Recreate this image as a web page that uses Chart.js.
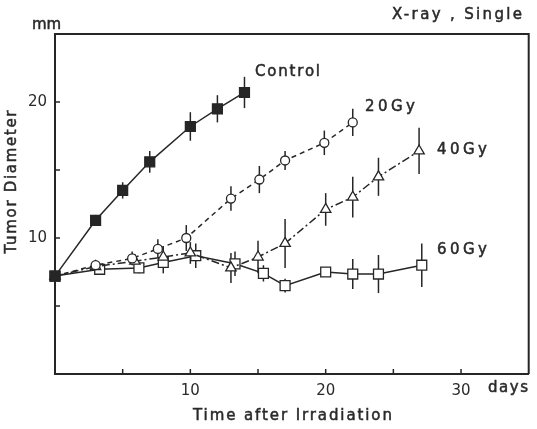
<!DOCTYPE html>
<html><head><meta charset="utf-8">
<script src="https://cdn.jsdelivr.net/npm/chart.js@4/dist/chart.umd.min.js"></script>
<style>html,body{margin:0;padding:0;background:#fff}</style>
</head><body>
<canvas id="c" width="537" height="429"></canvas>
<script>
// ---- data ----
const controlDays = [0, 3, 5, 7, 10, 12, 14];
const controlMean = [7.2, 11.3, 13.5, 15.6, 18.2, 19.5, 20.7];
const controlErr  = [0.6, 0.4, 0.6, 0.8, 1.05, 1.0, 1.15];

const gy20Days = [0, 3, 5.7, 7.6, 9.7, 13, 15.1, 17, 19.9, 22];
const gy20Mean = [7.2, 8.0, 8.5, 9.2, 10.0, 12.9, 14.3, 15.7, 17.0, 18.5];
const gy20Err  = [0.3, 0.3, 0.5, 0.7, 0.95, 0.9, 1.0, 0.7, 0.9, 1.0];

const gy40Days = [0, 3, 5.9, 8, 10, 13, 15, 17, 20, 22, 23.9, 26.9];
const gy40Mean = [7.2, 7.9, 8.3, 8.6, 8.9, 7.8, 8.6, 9.6, 12.1, 13.0, 14.5, 16.4];
const gy40Err  = [0.3, 0.3, 0.5, 0.8, 0.8, 1.1, 1.2, 1.8, 1.2, 1.5, 1.4, 1.7];

const gy60Days = [0, 3.3, 6.2, 8, 10.4, 13.3, 15.4, 17, 20, 22, 23.9, 27.1];
const gy60Mean = [7.2, 7.7, 7.8, 8.2, 8.7, 8.1, 7.4, 6.5, 7.5, 7.35, 7.35, 8.0];
const gy60Err  = [0.3, 0.2, 0.4, 0.8, 0.9, 0.9, 0.6, 0.5, 0.3, 1.1, 1.4, 1.6];

const seriesNames = ['Control', '20Gy', '40Gy', '60Gy'];
const xTickLabels = [10, 20, 30];
const yTickLabels = [10, 20];

// ---- chart ----
const INK = '#262626';
const TXT = '#2a2a2a';
const FONT = '"DejaVu Sans", "Liberation Sans", Arial, sans-serif';

function pts(xs, ys) { return xs.map((x, i) => ({ x: x, y: ys[i] })); }

const errs = [controlErr, gy20Err, gy40Err, gy60Err];
const datasets = [
  { label: seriesNames[0], data: pts(controlDays, controlMean), pointStyle: 'rect', pointRadius: 7,
    backgroundColor: INK, borderDash: [] },
  { label: seriesNames[1], data: pts(gy20Days, gy20Mean), pointStyle: 'circle', pointRadius: 4.5,
    backgroundColor: '#fff', borderDash: [5, 4] },
  { label: seriesNames[2], data: pts(gy40Days, gy40Mean), pointStyle: 'triangle', pointRadius: 6,
    backgroundColor: '#fff', borderDash: [8, 3, 2, 3] },
  { label: seriesNames[3], data: pts(gy60Days, gy60Mean), pointStyle: 'rect', pointRadius: 7,
    backgroundColor: '#fff', borderDash: [] }
].map(d => Object.assign({
  borderColor: INK, pointBorderColor: INK, pointBackgroundColor: d.backgroundColor,
  borderWidth: 1.5, pointBorderWidth: 1.3, tension: 0, clip: false, fill: false
}, d));

const errorBars = {
  id: 'errorBars',
  beforeDatasetsDraw(chart) {
    const ctx = chart.ctx, xs = chart.scales.x, ys = chart.scales.y;
    ctx.save();
    ctx.strokeStyle = INK; ctx.lineWidth = 1.5;
    chart.data.datasets.forEach((ds, di) => {
      ds.data.forEach((p, i) => {
        const e = errs[di][i];
        const px = xs.getPixelForValue(p.x);
        ctx.beginPath();
        ctx.moveTo(px, ys.getPixelForValue(p.y - e));
        ctx.lineTo(px, ys.getPixelForValue(p.y + e));
        ctx.stroke();
      });
    });
    ctx.restore();
  }
};

function spacedText(ctx, text, x, y, width, align) {
  ctx.letterSpacing = '0px';
  const w = ctx.measureText(text).width;
  const ls = Math.max(0, (width - w) / Math.max(1, text.length - 1));
  ctx.letterSpacing = ls.toFixed(2) + 'px';
  const tw = w + ls * (text.length - 1);
  let sx = x;
  if (align === 'center') sx = x - tw / 2;
  ctx.textAlign = 'left';
  ctx.fillText(text, sx, y);
  ctx.strokeText(text, sx, y);
  ctx.letterSpacing = '0px';
}

const frame = {
  id: 'frame',
  afterDraw(chart) {
    const ctx = chart.ctx, a = chart.chartArea, xs = chart.scales.x, ys = chart.scales.y;
    ctx.save();
    ctx.strokeStyle = INK; ctx.lineWidth = 2;
    ctx.beginPath();
    ctx.moveTo(a.left, a.top); ctx.lineTo(a.right, a.top); ctx.lineTo(a.right, a.bottom);
    ctx.stroke();
    ctx.lineWidth = 1.5;
    xs.ticks.forEach(t => {
      if (t.value <= xs.min || t.value >= xs.max) return;
      const px = xs.getPixelForValue(t.value);
      ctx.beginPath(); ctx.moveTo(px, a.bottom); ctx.lineTo(px, a.bottom - 5); ctx.stroke();
    });
    ys.ticks.forEach(t => {
      if (t.value <= ys.min || t.value >= ys.max) return;
      const py = ys.getPixelForValue(t.value);
      ctx.beginPath(); ctx.moveTo(a.left, py); ctx.lineTo(a.left + 5, py); ctx.stroke();
    });
    // texts
    ctx.fillStyle = TXT;
    ctx.strokeStyle = TXT;
    ctx.lineWidth = 0.5;
    ctx.textBaseline = 'middle';
    ctx.font = '15px ' + FONT;
    spacedText(ctx, 'Control', 255, 72, 65);
    spacedText(ctx, '20Gy', 365, 107, 50);
    spacedText(ctx, '40Gy', 437, 150, 50);
    spacedText(ctx, '60Gy', 437, 250, 50);
    spacedText(ctx, 'X-ray , Single', 392, 15, 130);
    spacedText(ctx, 'mm', 32, 25, 21);
    spacedText(ctx, 'days', 488, 388, 40);
    spacedText(ctx, 'Time after Irradiation', 193, 416, 199);
    ctx.save();
    ctx.translate(12, 182);
    ctx.rotate(-Math.PI / 2);
    spacedText(ctx, 'Tumor Diameter', 0, 0, 143, 'center');
    ctx.restore();
    ctx.restore();
  }
};

new Chart(document.getElementById('c'), {
  type: 'line',
  data: { datasets: datasets },
  options: {
    responsive: false, animation: false, devicePixelRatio: 1,
    layout: { padding: { left: 15, right: 6, top: 34, bottom: 30 } },
    plugins: { legend: { display: false }, tooltip: { enabled: false } },
    scales: {
      x: {
        type: 'linear', min: 0, max: 35,
        grid: { display: false, drawTicks: false },
        border: { display: true, color: INK, width: 2 },
        ticks: { stepSize: 5, padding: 8, color: TXT, font: { family: FONT, size: 15 },
          maxRotation: 0, autoSkip: false,
          callback: v => xTickLabels.includes(v) ? String(v) : '' },
        afterFit: s => { s.height = 25; }
      },
      y: {
        type: 'linear', min: 0, max: 25,
        grid: { display: false, drawTicks: false },
        border: { display: true, color: INK, width: 2 },
        ticks: { stepSize: 5, padding: 8, color: TXT, font: { family: FONT, size: 15 },
          callback: v => yTickLabels.includes(v) ? String(v) : '' },
        afterFit: s => { s.width = 40; }
      }
    }
  },
  plugins: [errorBars, frame]
});
</script>
</body></html>
